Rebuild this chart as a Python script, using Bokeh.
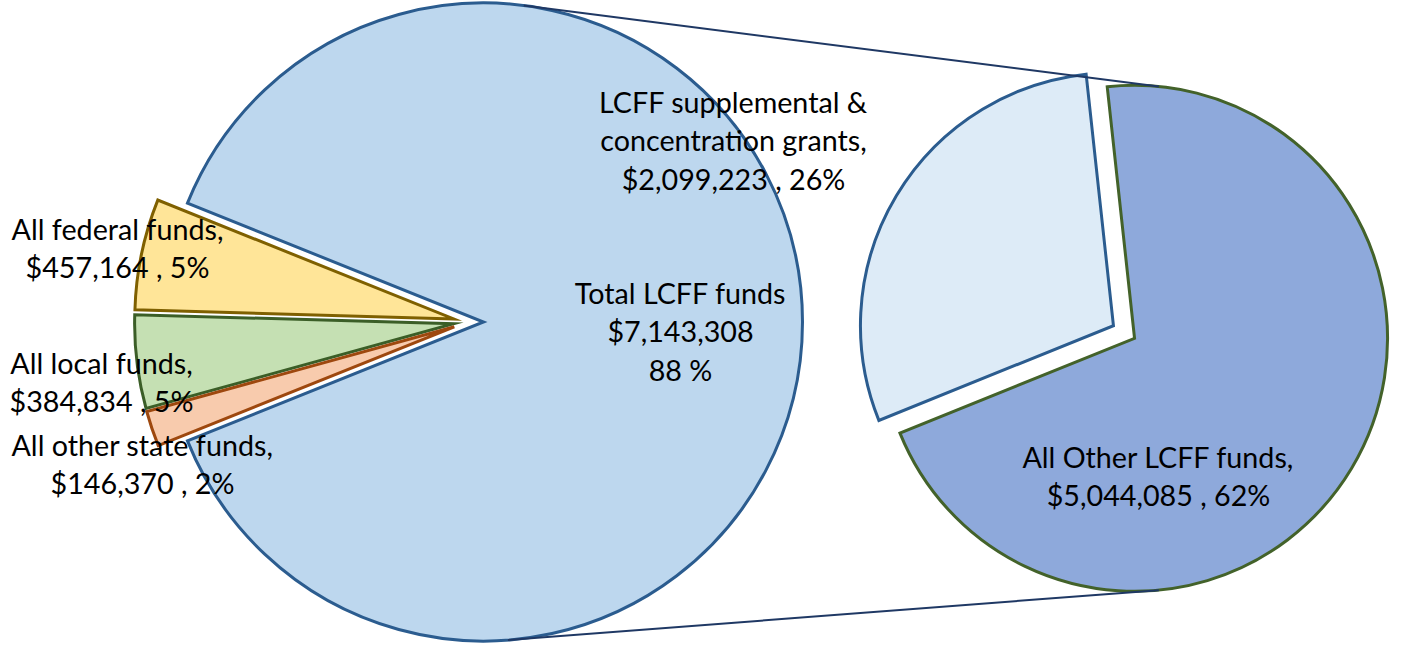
import math
from bokeh.plotting import figure
from bokeh.models import Range1d
from bokeh.core.properties import value
from bokeh.embed import file_html
from bokeh.resources import INLINE

# ---------------- data ----------------
main_names = ["Total LCFF funds", "All federal funds", "All local funds", "All other state funds"]
main_values = [7143308, 457164, 384834, 146370]
main_pcts = [88, 5, 5, 2]

sub_names = ["LCFF supplemental & concentration grants", "All Other LCFF funds"]
sub_values = [2099223, 5044085]
sub_pcts = [26, 62]

# ---------------- styles ----------------
main_fill = ["#BDD7EE", "#FFE598", "#C5E0B3", "#F8CBAD"]
main_line = ["#2B5C8F", "#7F6000", "#3B5E27", "#9E480E"]
sub_fill = ["#DDEBF7", "#8EA9DB"]
sub_line = ["#2B5C8F", "#43622A"]
conn_color = "#1F3864"
FONT = "Lato"
FS = "28.7px"
LH = 38.5
TEXT_SHIFT = -11

# ---------------- layout (pixel space, y measured downward -> flipped) ----------------
W, H = 1390, 643
def Y(y_px):
    return H - y_px

main_c = (468.0, Y(321.5))
main_r = 319.0
main_explode = 15.0
sub_c = (1123.5, Y(331.5))
sub_r = 253.0
sub_explode = 12.3
sub_start = 96.2
conn_angle = 84.5

p = figure(width=W, height=H, x_range=Range1d(0, W), y_range=Range1d(0, H),
           output_backend="svg", toolbar_location=None, min_border=0)
p.axis.visible = False
p.grid.visible = False
p.outline_line_color = None
p.background_fill_color = "white"
p.border_fill_color = "white"

def wedges(values, start, center, r, explode, fills, lines):
    total = float(sum(values))
    xs, ys, ss, es = [], [], [], []
    a = start
    for v in values:
        span = 360.0 * v / total
        s, e = a, a + span
        m = math.radians((s + e) / 2)
        xs.append(center[0] + explode * math.cos(m))
        ys.append(center[1] + explode * math.sin(m))
        ss.append(math.radians(s))
        es.append(math.radians(e))
        a = e
    p.wedge(x=xs, y=ys, radius=r, start_angle=ss, end_angle=es, direction="anticlock",
            fill_color=fills, line_color=lines, line_width=3, line_join="miter")
    return xs, ys

# main pie: LCFF slice centred on 0 deg, the small slices gathered on the left
lcff_span = 360.0 * main_values[0] / sum(main_values)
mx, my = wedges(main_values, -lcff_span / 2, main_c, main_r, main_explode, main_fill, main_line)

# secondary pie (breakdown of the LCFF slice)
sx, sy = wedges(sub_values, sub_start, sub_c, sub_r, sub_explode, sub_fill, sub_line)

# connector lines: tangent to the LCFF slice, ending on the dark slice of the second pie
A1 = (mx[0], my[0])
A2 = (sx[1], sy[1])
for sign in (1, -1):
    ang = math.radians(sign * conn_angle)
    P = (A2[0] + sub_r * math.cos(ang), A2[1] + sub_r * math.sin(ang))
    dx, dy = P[0] - A1[0], P[1] - A1[1]
    d = math.hypot(dx, dy)
    phi = math.atan2(dy, dx)
    beta = math.acos(main_r / d)
    t = phi + sign * beta
    T = (A1[0] + main_r * math.cos(t), A1[1] + main_r * math.sin(t))
    p.line([T[0], P[0]], [T[1], P[1]], line_color=conn_color, line_width=2)

# ---------------- labels ----------------
def money(v):
    return "${:,}".format(v)

label_lines = [
    ["Total LCFF funds", money(main_values[0]), "%d %%" % main_pcts[0]],
    [main_names[1] + ",", "%s , %d%%" % (money(main_values[1]), main_pcts[1])],
    [main_names[2] + ",", "%s , %d%%" % (money(main_values[2]), main_pcts[2])],
    [main_names[3] + ",", "%s , %d%%" % (money(main_values[3]), main_pcts[3])],
    ["LCFF supplemental &", "concentration grants,", "%s , %d%%" % (money(sub_values[0]), sub_pcts[0])],
    [sub_names[1] + ",", "%s , %d%%" % (money(sub_values[1]), sub_pcts[1])],
]
label_anchor = [(680, 303), (117, 239), (101, 373), (142, 455), (733, 112), (1158, 467)]

tx, ty, tt = [], [], []
for lines, (ax, ay) in zip(label_lines, label_anchor):
    for i, ln in enumerate(lines):
        tx.append(ax)
        ty.append(Y(ay + i * LH + TEXT_SHIFT))
        tt.append(ln)
p.text(x=tx, y=ty, text=tt, text_align="center", text_baseline="alphabetic",
       text_font=value(FONT), text_font_size=FS, text_color="#000000")

open("out.html", "w").write(file_html(p, INLINE))
